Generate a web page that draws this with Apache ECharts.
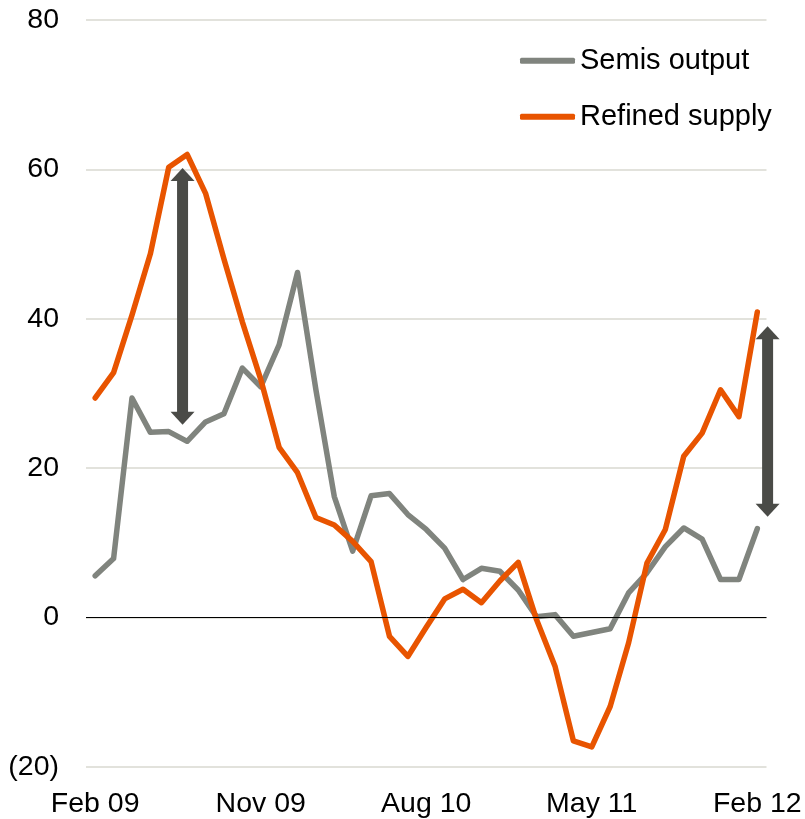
<!DOCTYPE html>
<html>
<head>
<meta charset="utf-8">
<script src="https://cdn.jsdelivr.net/npm/echarts@6/dist/echarts.min.js"></script>
<style>html,body{margin:0;padding:0;background:#fff;}#c{width:805px;height:819px;}</style>
</head>
<body>
<div id="c"></div>
<script>
// Monthly, Feb 09 .. Feb 12
const months = ['Feb 09','Mar 09','Apr 09','May 09','Jun 09','Jul 09','Aug 09','Sep 09','Oct 09','Nov 09','Dec 09',
  'Jan 10','Feb 10','Mar 10','Apr 10','May 10','Jun 10','Jul 10','Aug 10','Sep 10','Oct 10','Nov 10','Dec 10',
  'Jan 11','Feb 11','Mar 11','Apr 11','May 11','Jun 11','Jul 11','Aug 11','Sep 11','Oct 11','Nov 11','Dec 11',
  'Jan 12','Feb 12'];
const semisOutput = [5.6, 7.9, 29.4, 24.8, 24.9, 23.6, 26.2, 27.3, 33.4, 30.9, 36.5, 46.2, 30.5, 16.2, 8.9, 16.3, 16.6, 13.8, 11.8, 9.3, 5.1, 6.6, 6.2, 3.7, 0.1, 0.4, -2.5, -2.0, -1.5, 3.3, 6.0, 9.5, 12.0, 10.5, 5.1, 5.1, 11.9];
const refinedSupply = [29.4, 32.8, 40.5, 48.7, 60.3, 62.0, 56.8, 48.0, 39.6, 31.9, 22.8, 19.4, 13.4, 12.4, 10.2, 7.5, -2.5, -5.2, -1.3, 2.5, 3.8, 2.0, 4.9, 7.4, -0.3, -6.5, -16.5, -17.3, -11.9, -3.4, 7.3, 11.8, 21.6, 24.7, 30.5, 26.9, 40.9];
const tickIndex = [0, 9, 18, 27, 36];
const tickLabels = ['Feb 09', 'Nov 09', 'Aug 10', 'May 11', 'Feb 12'];
const yTicks = [-20, 0, 20, 40, 60, 80];
// gap arrows: [x position (month index), from value, to value]
const arrows = [[4.75, 60.2, 25.8], [36.56, 39.0, 13.5]];

const FONT = '"Liberation Sans", Arial, sans-serif';
const chart = echarts.init(document.getElementById('c'), null, {renderer: 'canvas'});
const toPairs = arr => arr.map((v, i) => [i, v]);

chart.setOption({
  animation: false,
  backgroundColor: '#ffffff',
  textStyle: {fontFamily: FONT},
  grid: {left: 86, right: 38.5, top: 20, bottom: 51, containLabel: false},
  legend: {
    orient: 'vertical', left: 520, top: 45.7, padding: 0,
    itemWidth: 55, itemHeight: 6, itemGap: 26,
    textStyle: {fontSize: 29, lineHeight: 30, color: '#000', fontFamily: FONT},
    data: [{name: 'Semis output', icon: 'roundRect'}, {name: 'Refined supply', icon: 'roundRect'}]
  },
  xAxis: {
    type: 'value', min: -0.5, max: 36.5,
    axisLine: {show: false}, axisTick: {show: false}, splitLine: {show: false},
    axisLabel: {
      customValues: tickIndex, fontSize: 28.5, color: '#000', margin: 23, fontFamily: FONT,
      formatter: v => tickLabels[tickIndex.indexOf(Math.round(v))] || ''
    }
  },
  yAxis: {
    type: 'value', min: yTicks[0], max: yTicks[yTicks.length-1], interval: 20,
    axisLine: {show: false}, axisTick: {show: false},
    splitLine: {lineStyle: {color: '#d9d9d0', width: 1.5}},
    axisLabel: {fontSize: 28.5, color: '#000', margin: 27, fontFamily: FONT,
      formatter: v => v < 0 ? '(' + Math.abs(v) + ')' : String(v)}
  },
  series: [
    {
      name: 'Semis output', type: 'line', data: toPairs(semisOutput), symbol: 'none',
      lineStyle: {color: '#80847e', width: 5.5, cap: 'round', join: 'round'},
      itemStyle: {color: '#80847e'}, z: 3,
      markLine: {silent: true, symbol: 'none', label: {show: false},
        lineStyle: {color: '#000', width: 1, type: 'solid'}, data: [{yAxis: 0}]}
    },
    {
      name: 'Refined supply', type: 'line', data: toPairs(refinedSupply), symbol: 'none',
      lineStyle: {color: '#e85400', width: 5.5, cap: 'round', join: 'round'},
      itemStyle: {color: '#e85400'}, z: 4
    },
    {
      name: 'gap', type: 'custom', clip: false, z: 5, silent: true,
      data: arrows,
      renderItem: function (params, api) {
        const x = api.value(0);
        const top = api.coord([x, api.value(1)]);
        const bot = api.coord([x, api.value(2)]);
        const cx = top[0], hw = 12, hh = 13, sw = 5.5;
        const col = '#4a4b47';
        return {type: 'group', children: [
          {type: 'rect', shape: {x: cx - sw, y: top[1] + hh - 1, width: sw*2, height: bot[1] - top[1] - 2*hh + 2}, style: {fill: col}},
          {type: 'polygon', shape: {points: [[cx, top[1]], [cx - hw, top[1] + hh], [cx + hw, top[1] + hh]]}, style: {fill: col}},
          {type: 'polygon', shape: {points: [[cx, bot[1]], [cx - hw, bot[1] - hh], [cx + hw, bot[1] - hh]]}, style: {fill: col}}
        ]};
      }
    }
  ]
});
</script>
</body>
</html>
